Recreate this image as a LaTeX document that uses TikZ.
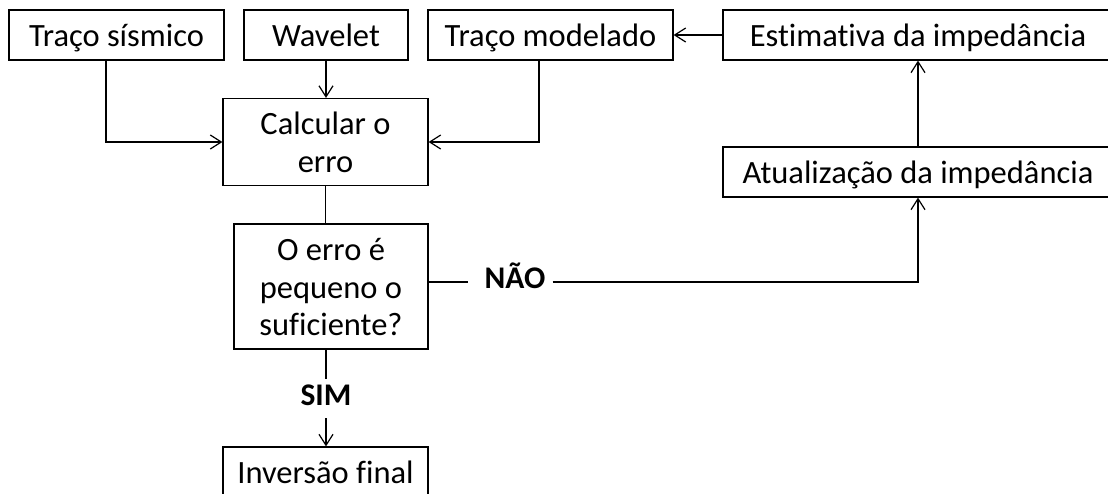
\documentclass[tikz,border=0pt]{standalone}
\usepackage{fontspec}
\setmainfont[RawFeature={-liga}]{Carlito}
\usetikzlibrary{arrows.meta}
\newcommand\ls{\rule[-6.6pt]{0pt}{36.6pt}}
\begin{document}
\begin{tikzpicture}[x=1pt,y=-1pt,
  box/.style={draw=black, line width=1.2pt, inner sep=0pt, align=center,
    font={\fontsize{32.5}{37.5}\selectfont\lineskiplimit=-100pt}},
  arr/.style={-{Straight Barb[length=11pt,width=14pt]}, line width=1.2pt},
  ln/.style={line width=1.2pt},
  lbl/.style={font={\fontsize{31.5}{37}\selectfont\bfseries}, inner sep=0pt}]
\useasboundingbox (0,0) rectangle (1108,493);
\clip (0,0) rectangle (1108,493);
% boxes
\node[box, minimum width=215pt, minimum height=50pt] (ts) at (116.5,35) {\ls Traço sísmico};
\node[box, minimum width=164pt, minimum height=50pt] (wv) at (326,35) {\ls Wavelet};
\node[box, minimum width=245pt, minimum height=50pt] (tm) at (550.5,35) {\ls Traço modelado};
\node[box, minimum width=390pt, minimum height=50pt] (est) at (918,35) {\ls Estimativa da impedância};
\node[box, minimum width=205pt, minimum height=87pt] (calc) at (325.5,142) {\ls Calcular o\\\ls erro};
\node[box, minimum width=390pt, minimum height=50pt] (upd) at (918,172) {\ls Atualização da impedância};
\node[box, minimum width=194pt, minimum height=125pt] (dec) at (331,286.5) {\ls O erro é\\\ls pequeno o\\\ls suficiente?};
\node[box, minimum width=205pt, minimum height=50pt] (inv) at (325.5,472) {\ls Inversão final};
% labels
\node[lbl, text height=14pt, text depth=2pt] (nao) at (515,282) {NÃO};
\node[lbl, text height=19pt, text depth=0pt] (sim) at (326,395.5) {SIM};
% connectors
\draw[arr] ([xshift=-10.5pt]ts.south) |- (calc.west);
\draw[arr] (wv.south) -- (wv.south |- calc.north);
\draw[arr] ([xshift=-11.5pt]tm.south) |- (calc.east);
\draw[arr] (est.west) -- (tm.east);
\draw[arr] (upd.north) -- (est.south);
\draw[ln] (calc.south) -- (calc.south |- dec.north);
\draw[ln] (dec.east |- nao.west) -- ([xshift=-16pt]nao.west);
\draw[arr] ([xshift=7pt]nao.east) -| (upd.south);
\draw[ln] ([xshift=-5pt]dec.south) -- ([yshift=7pt]sim.north);
\draw[arr] ([yshift=-13pt]sim.south) -- (sim.south |- inv.north);
\end{tikzpicture}
\end{document}
